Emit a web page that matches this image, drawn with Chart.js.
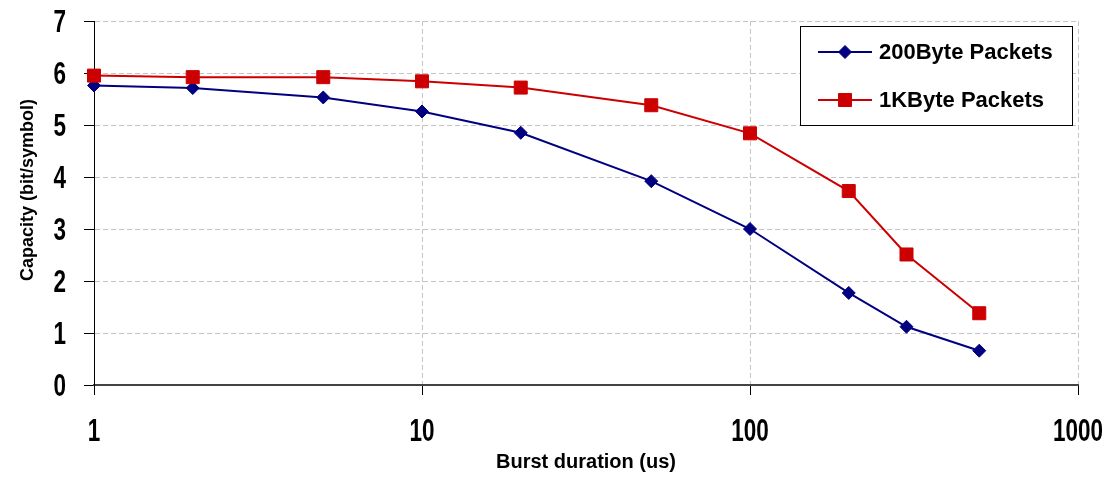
<!DOCTYPE html>
<html><head><meta charset="utf-8">
<script src="https://cdn.jsdelivr.net/npm/chart.js@4"></script>
<style>html,body{margin:0;padding:0;background:#fff;}#wrap{width:1110px;height:477px;}</style>
</head><body><div id="wrap"><canvas id="c" width="1110" height="477"></canvas></div>
<script>
const burstDurations = [1, 2, 5, 10, 20, 50, 100, 200, 300, 500];
const capacity200Byte = [5.76, 5.71, 5.53, 5.26, 4.85, 3.92, 3.00, 1.77, 1.12, 0.66];
const capacity1KByte = [5.95, 5.92, 5.92, 5.84, 5.72, 5.38, 4.84, 3.73, 2.51, 1.38];
const xTickValues = [1, 10, 100, 1000];
const xTickLabels = ['1', '10', '100', '1000'];
const yTickValues = [0, 1, 2, 3, 4, 5, 6, 7];
const yTickLabels = ['0', '1', '2', '3', '4', '5', '6', '7'];
const seriesLabels = ['200Byte Packets', '1KByte Packets'];
const xTitle = 'Burst duration (us)';
const yTitle = 'Capacity (bit/symbol)';

const titleFont = { family: '"Liberation Sans", Arial', size: 20, weight: 'bold' };

// Tick labels and y title: drawn condensed/tall like the reference, positioned by the chart's scales
const axisTextPlugin = {
  id: 'axisText',
  afterDraw(chart) {
    const ctx = chart.ctx, xs = chart.scales.x, ys = chart.scales.y;
    const sy = 1.36;
    ctx.save();
    ctx.fillStyle = '#000';
    ctx.font = 'bold 22.5px "Liberation Sans", Arial';
    ctx.textBaseline = 'alphabetic';
    ctx.textAlign = 'center';
    xTickValues.forEach((v, i) => {
      const x = xs.getPixelForValue(v);
      ctx.save(); ctx.translate(x, 441); ctx.scale(1, sy);
      ctx.fillText(xTickLabels[i], 0, 0); ctx.restore();
    });
    ctx.textAlign = 'right';
    yTickValues.forEach((v, i) => {
      const y = ys.getPixelForValue(v);
      ctx.save(); ctx.translate(66, y + 11); ctx.scale(1, sy);
      ctx.fillText(yTickLabels[i], 0, 0); ctx.restore();
    });
    ctx.font = 'bold 18px "Liberation Sans", Arial';
    ctx.textAlign = 'center';
    ctx.save(); ctx.translate(33, 190); ctx.rotate(-Math.PI / 2);
    ctx.fillText(yTitle, 0, 0); ctx.restore();
    ctx.restore();
  }
};

const legendPlugin = {
  id: 'boxLegend',
  afterDraw(chart) {
    const ctx = chart.ctx;
    ctx.save();
    ctx.fillStyle = '#fff';
    ctx.fillRect(801, 27, 271, 98);
    ctx.strokeStyle = '#000';
    ctx.lineWidth = 1;
    ctx.strokeRect(800.5, 26.5, 272, 99);
    const rows = [52, 100];
    chart.data.datasets.forEach((ds, i) => {
      const y = rows[i];
      ctx.strokeStyle = ds.borderColor;
      ctx.lineWidth = 2;
      ctx.beginPath(); ctx.moveTo(818, y); ctx.lineTo(872, y); ctx.stroke();
      ctx.fillStyle = ds.pointBackgroundColor;
      ctx.strokeStyle = ds.pointBorderColor;
      ctx.lineWidth = 1;
      Chart.helpers.drawPoint(ctx, { pointStyle: ds.pointStyle, rotation: 0, radius: ds.pointRadius, borderWidth: 1 }, 845, y);
      ctx.fillStyle = '#000';
      ctx.font = 'bold 22px "Liberation Sans", Arial';
      ctx.textBaseline = 'middle';
      ctx.textAlign = 'left';
      ctx.fillText(ds.label, 879, y + 1);
    });
    ctx.restore();
  }
};

function zeroPad(s) { s.paddingTop = 0; s.paddingBottom = 0; s.paddingLeft = 0; s.paddingRight = 0; }

new Chart(document.getElementById('c'), {
  type: 'line',
  data: {
    datasets: [
      {
        label: seriesLabels[0],
        data: burstDurations.map((x, i) => ({ x: x, y: capacity200Byte[i] })),
        borderColor: '#000080', backgroundColor: '#000080',
        pointBackgroundColor: '#000080', pointBorderColor: '#000080',
        pointStyle: 'rectRot', pointRadius: 6.5, pointBorderWidth: 1,
        borderWidth: 2, tension: 0, clip: false, order: 1
      },
      {
        label: seriesLabels[1],
        data: burstDurations.map((x, i) => ({ x: x, y: capacity1KByte[i] })),
        borderColor: '#cc0000', backgroundColor: '#cc0000',
        pointBackgroundColor: '#cc0000', pointBorderColor: '#cc0000',
        pointStyle: 'rect', pointRadius: 9.2, pointBorderWidth: 1,
        borderWidth: 2, tension: 0, clip: false, order: 0
      }
    ]
  },
  options: {
    responsive: false,
    animation: false,
    devicePixelRatio: 1,
    layout: { padding: { top: 21, right: 32, left: 0, bottom: 0 } },
    plugins: { legend: { display: false }, tooltip: { enabled: false } },
    scales: {
      x: {
        type: 'logarithmic', min: 1, max: 1000,
        afterBuildTicks: (s) => { s.ticks = xTickValues.map(v => ({ value: v })); },
        afterFit: (s) => { s.height = 92; zeroPad(s); },
        ticks: { display: false, autoSkip: false, maxRotation: 0 },
        grid: { color: '#c4c4c4', tickColor: '#000', tickLength: 10, tickWidth: 1, tickBorderDash: [] },
        border: { color: '#444', width: 2, dash: [5, 3] },
        title: { display: true, text: xTitle, color: '#000', font: titleFont, padding: { top: 0, bottom: 3 } }
      },
      y: {
        min: 0, max: 7,
        afterBuildTicks: (s) => { s.ticks = yTickValues.map(v => ({ value: v })); },
        afterFit: (s) => { s.width = 94; zeroPad(s); },
        ticks: { display: false },
        grid: { color: '#c4c4c4', tickColor: '#000', tickLength: 10, tickWidth: 1, tickBorderDash: [] },
        border: { color: '#000', width: 1, dash: [5, 3] }
      }
    }
  },
  plugins: [axisTextPlugin, legendPlugin]
});
</script></body></html>
